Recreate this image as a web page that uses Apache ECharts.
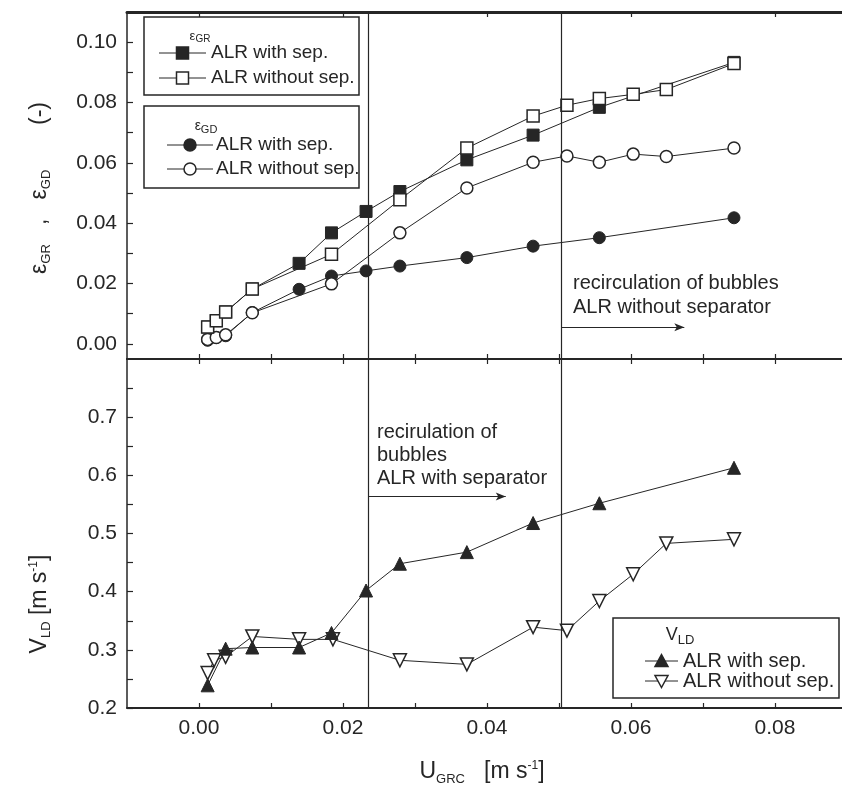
<!DOCTYPE html>
<html>
<head>
<meta charset="utf-8">
<script src="https://cdn.jsdelivr.net/npm/echarts@6/dist/echarts.min.js"></script>
<style>
  html, body { margin: 0; padding: 0; background: #fff; }
  #chart { width: 842px; height: 786px; }
</style>
</head>
<body>
<div id="chart"></div>
<script>
// --- data ---
const uGR_sep   = [0.0012, 0.0024, 0.0037, 0.0074, 0.0139, 0.0184, 0.0232, 0.0279, 0.0372, 0.0464, 0.0556, 0.0743];
const epsGR_sep = [0.0056, 0.0077, 0.0106, 0.0182, 0.0267, 0.0368, 0.0439, 0.0505, 0.0610, 0.0692, 0.0784, 0.0933];

const uGR_noSep   = [0.0012, 0.0024, 0.0037, 0.0074, 0.0184, 0.0279, 0.0372, 0.0464, 0.0511, 0.0556, 0.0603, 0.0649, 0.0743];
const epsGR_noSep = [0.0056, 0.0077, 0.0106, 0.0182, 0.0297, 0.0478, 0.0649, 0.0755, 0.0791, 0.0813, 0.0827, 0.0843, 0.0929];

const uGD_sep   = [0.0012, 0.0024, 0.0037, 0.0074, 0.0139, 0.0184, 0.0232, 0.0279, 0.0372, 0.0464, 0.0556, 0.0743];
const epsGD_sep = [0.0012, 0.0021, 0.0027, 0.0104, 0.0181, 0.0225, 0.0242, 0.0258, 0.0286, 0.0324, 0.0352, 0.0418];

const uGD_noSep   = [0.0012, 0.0024, 0.0037, 0.0074, 0.0184, 0.0279, 0.0372, 0.0464, 0.0511, 0.0556, 0.0603, 0.0649, 0.0743];
const epsGD_noSep = [0.0015, 0.0021, 0.0030, 0.0103, 0.0199, 0.0368, 0.0517, 0.0602, 0.0623, 0.0602, 0.0629, 0.0621, 0.0649];

const uV_sep   = [0.0012, 0.0037, 0.0074, 0.0139, 0.0184, 0.0232, 0.0279, 0.0372, 0.0464, 0.0556, 0.0743];
const vLD_sep  = [0.239, 0.302, 0.304, 0.304, 0.329, 0.402, 0.448, 0.468, 0.518, 0.552, 0.613];

const uV_noSep  = [0.0012, 0.0021, 0.0037, 0.0074, 0.0139, 0.0186, 0.0279, 0.0372, 0.0464, 0.0511, 0.0556, 0.0603, 0.0649, 0.0743];
const vLD_noSep = [0.260, 0.282, 0.288, 0.323, 0.318, 0.318, 0.282, 0.275, 0.339, 0.333, 0.384, 0.430, 0.483, 0.490];

// regime boundaries (vertical lines) and arrows
const regimeLines = [0.0235, 0.0503];
const arrowTop = [[0.0503, 0.0055], [0.0674, 0.0055]];
const arrowBottom = [[0.0235, 0.5636], [0.0426, 0.5636]];

// ticks and labels
const xTicks      = [0.00, 0.01, 0.02, 0.03, 0.04, 0.05, 0.06, 0.07, 0.08];
const xTicksMajor = [0.00, 0.02, 0.04, 0.06, 0.08];
const xLabels     = [0.00, 0.02, 0.04, 0.06, 0.08];
const yTopTicks   = [0.00, 0.01, 0.02, 0.03, 0.04, 0.05, 0.06, 0.07, 0.08, 0.09, 0.10];
const yTopLabels  = [0.00, 0.02, 0.04, 0.06, 0.08, 0.10];
const yBotTicks   = [0.20, 0.25, 0.30, 0.35, 0.40, 0.45, 0.50, 0.55, 0.60, 0.65, 0.70, 0.75];
const yBotLabels  = [0.2, 0.3, 0.4, 0.5, 0.6, 0.7];

const FONT = "'Liberation Sans', Arial, sans-serif";
const INK = "#262626";

const zip = (xs, ys) => xs.map((x, i) => [x, ys[i]]);

const chart = echarts.init(document.getElementById("chart"));

// the plot frame runs past the right edge of the picture, so x ends a bit below 0.09
function xAxisCfg(gridIndex, position, ticks, lineWidth, labels) {
  return {
    type: "value",
    gridIndex,
    position,
    min: -0.01,
    max: 0.0893,
    axisLine: { onZero: false, lineStyle: { color: INK, width: lineWidth } },
    axisTick: { inside: true, length: 5, customValues: ticks, lineStyle: { color: INK, width: 1.2 } },
    axisLabel: labels
      ? { customValues: labels, formatter: (v) => v.toFixed(2), fontSize: 21, margin: 10, color: INK, fontFamily: FONT }
      : { show: false },
    splitLine: { show: false },
  };
}

function yAxisCfg(gridIndex, min, max, ticks, labels, digits) {
  return {
    type: "value",
    gridIndex,
    min,
    max,
    axisLine: { onZero: false, lineStyle: { color: INK, width: 1.5 } },
    axisTick: { inside: true, length: 6, customValues: ticks, lineStyle: { color: INK, width: 1.2 } },
    axisLabel: { customValues: labels, formatter: (v) => v.toFixed(digits), fontSize: 21, margin: 10, color: INK, fontFamily: FONT },
    splitLine: { show: false },
  };
}

function lineSeries(name, data, xi, yi, symbol, filled, size, rotate) {
  return {
    name,
    type: "line",
    xAxisIndex: xi,
    yAxisIndex: yi,
    data,
    symbol,
    symbolSize: size,
    symbolRotate: rotate || 0,
    showAllSymbol: true,
    lineStyle: { color: INK, width: 1 },
    itemStyle: filled
      ? { color: INK, borderColor: INK, borderWidth: 1 }
      : { color: "#fff", borderColor: INK, borderWidth: 1.5 },
    animation: false,
  };
}

const vLines = {
  silent: true,
  precision: 4,
  symbol: ["none", "none"],
  label: { show: false },
  lineStyle: { color: INK, width: 1.2, type: "solid" },
  data: regimeLines.map((v) => ({ xAxis: v })),
};

function arrowLine(pts) {
  return {
    silent: true,
    precision: 4,
    symbol: ["none", "arrow"],
    symbolSize: [6, 10],
    label: { show: false },
    lineStyle: { color: INK, width: 1, type: "solid" },
    data: [[{ coord: pts[0] }, { coord: pts[1] }]],
  };
}

const sGR_sep = lineSeries("eGR with sep.", zip(uGR_sep, epsGR_sep), 0, 0, "rect", true, 12);
const sGR_no  = lineSeries("eGR without sep.", zip(uGR_noSep, epsGR_noSep), 0, 0, "rect", false, 12);
const sGD_sep = lineSeries("eGD with sep.", zip(uGD_sep, epsGD_sep), 0, 0, "circle", true, 12);
const sGD_no  = lineSeries("eGD without sep.", zip(uGD_noSep, epsGD_noSep), 0, 0, "circle", false, 12);
const sV_no   = lineSeries("VLD without sep.", zip(uV_noSep, vLD_noSep), 2, 1, "triangle", false, 13, 180);
const sV_sep  = lineSeries("VLD with sep.", zip(uV_sep, vLD_sep), 2, 1, "triangle", true, 13);

sGD_sep.markLine = vLines;
sGD_no.markLine = arrowLine(arrowTop);
sV_no.markLine = vLines;
sV_sep.markLine = arrowLine(arrowBottom);

// --- legend boxes, annotations and axis titles ---
function txt(x, y, text, size, extra) {
  return Object.assign({
    type: "text", x, y, z: 100,
    style: {
      text, fill: INK, font: size + "px " + FONT,
      align: "left", verticalAlign: "middle", textAlign: "left", textVerticalAlign: "middle",
    },
  }, extra || {});
}

function rich(x, y, text, parts, extra) {
  const r = {};
  Object.keys(parts).forEach((k) => {
    r[k] = Object.assign({ fontFamily: FONT, fill: INK, color: INK }, parts[k]);
  });
  return Object.assign({
    type: "text", x, y, z: 100,
    style: { text, rich: r, align: "center", verticalAlign: "middle", textAlign: "center", textVerticalAlign: "middle" },
  }, extra || {});
}

function glyph(kind, cx, cy, filled) {
  const style = { fill: filled ? INK : "#fff", stroke: INK, lineWidth: 1.5 };
  if (kind === "rect") return { type: "rect", z: 101, shape: { x: cx - 6, y: cy - 6, width: 12, height: 12 }, style };
  if (kind === "circle") return { type: "circle", z: 101, shape: { cx, cy, r: 6 }, style };
  if (kind === "up") return { type: "polygon", z: 101, shape: { points: [[cx, cy - 6.5], [cx + 6.5, cy + 5.5], [cx - 6.5, cy + 5.5]] }, style };
  return { type: "polygon", z: 101, shape: { points: [[cx - 6.5, cy - 5.5], [cx + 6.5, cy - 5.5], [cx, cy + 6.5]] }, style };
}

function legendRow(x0, x1, y, kind, filled, label, tx, size) {
  return [
    { type: "line", z: 100, shape: { x1: x0, y1: y, x2: x1, y2: y }, style: { stroke: INK, lineWidth: 1 } },
    glyph(kind, (x0 + x1) / 2, y, filled),
    txt(tx, y, label, size),
  ];
}

function box(x, y, w, h) {
  return { type: "rect", z: 99, shape: { x, y, width: w, height: h }, style: { fill: "#fff", stroke: INK, lineWidth: 1.5 } };
}

const subTitle = (mainSize, subSize) => ({
  m: { fontSize: mainSize },
  s: { fontSize: subSize, padding: [Math.round(mainSize * 0.55), 0, 0, 0] },
});

const graphics = [
  box(144, 17, 215, 78),
  rich(200, 36, "{m|ε}{s|GR}", subTitle(13, 10)),
  ...legendRow(159, 206, 53, "rect", true, "ALR with sep.", 211, 19),
  ...legendRow(159, 206, 78, "rect", false, "ALR without sep.", 211, 19),

  box(144, 106, 215, 82),
  rich(206, 126, "{m|ε}{s|GD}", subTitle(14, 11)),
  ...legendRow(167, 213, 145, "circle", true, "ALR with sep.", 216, 19),
  ...legendRow(167, 213, 169, "circle", false, "ALR without sep.", 216, 19),

  box(613, 618, 226, 80),
  rich(680, 635, "{m|V}{s|LD}", subTitle(18, 13)),
  ...legendRow(645, 678, 661, "up", true, "ALR with sep.", 683, 20),
  ...legendRow(645, 678, 681, "down", false, "ALR without sep.", 683, 20),

  txt(573, 283, "recirculation of bubbles", 20),
  txt(573, 307, "ALR without separator", 20),
  txt(377, 432, "recirulation of", 20),
  txt(377, 455, "bubbles", 20),
  txt(377, 478, "ALR with separator", 20),

  rich(40, 188, "{m|ε}{s|GR}{n|   ,   }{m|ε}{s|GD}{n|       (-)}", {
    m: { fontSize: 23 }, s: { fontSize: 13, padding: [13, 0, 0, 0] }, n: { fontSize: 23 },
  }, { rotation: Math.PI / 2 }),
  rich(40, 604, "{m|V}{s|LD}{n| [m s}{p|-1}{n|]}", {
    m: { fontSize: 23 }, s: { fontSize: 13, padding: [13, 0, 0, 0] }, n: { fontSize: 23 }, p: { fontSize: 12, padding: [0, 0, 13, 0] },
  }, { rotation: Math.PI / 2 }),
  rich(482, 772, "{m|U}{s|GRC}{n|   [m s}{p|-1}{n|]}", {
    m: { fontSize: 23 }, s: { fontSize: 13, padding: [14, 0, 0, 0] }, n: { fontSize: 23 }, p: { fontSize: 12, padding: [0, 0, 13, 0] },
  }),
];

chart.setOption({
  backgroundColor: "#fff",
  animation: false,
  grid: [
    { left: 127, top: 12, right: 0, height: 347, show: false },
    { left: 127, top: 359, right: 0, height: 349, show: false },
  ],
  xAxis: [
    xAxisCfg(0, "bottom", xTicks, 2),
    xAxisCfg(0, "top", xTicksMajor, 3),
    xAxisCfg(1, "bottom", xTicks, 2, xLabels),
    xAxisCfg(1, "top", xTicks, 2),
  ],
  yAxis: [
    yAxisCfg(0, -0.005, 0.11, yTopTicks, yTopLabels, 2),
    yAxisCfg(1, 0.2, 0.8, yBotTicks, yBotLabels, 1),
  ],
  series: [sGD_sep, sGD_no, sGR_sep, sGR_no, sV_no, sV_sep],
  graphic: graphics,
});
</script>
</body>
</html>
